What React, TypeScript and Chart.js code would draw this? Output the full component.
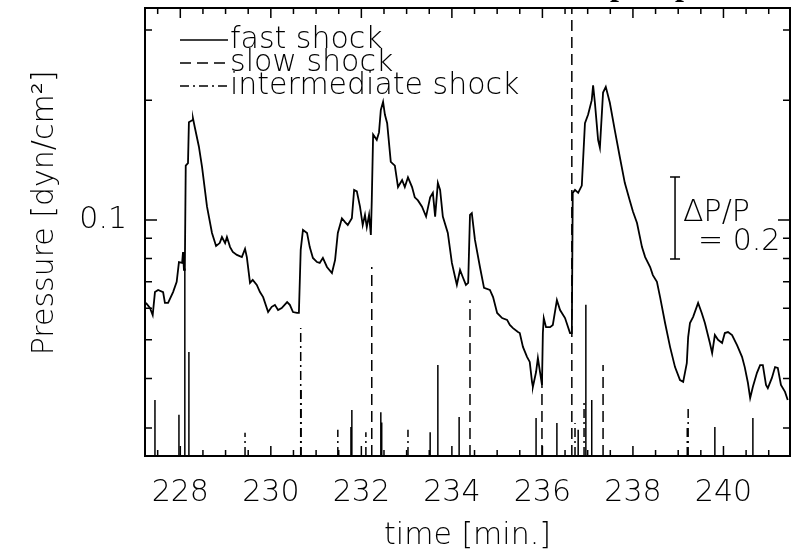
import React, { useEffect, useRef } from "react";
import { Chart, registerables } from "chart.js";

Chart.register(...registerables);

const FONT = '"DejaVu Sans", sans-serif';
const FONT_WEIGHT = "200";

// axis ranges (minutes, dyn/cm^2)
const X_MIN = 227.22;
const X_MAX = 241.47;
const Y_MIN = 0.02553;
const Y_MAX = 0.3409;

// pressure time series
const timeMin = [
  227.24, 227.33, 227.39, 227.44, 227.51, 227.62, 227.66, 227.73, 227.84, 227.92,
  227.97, 228.04, 228.06, 228.08, 228.1, 228.12, 228.17, 228.19, 228.26, 228.28,
  228.32, 228.41, 228.48, 228.59, 228.7, 228.79, 228.87, 228.92, 228.99, 229.03,
  229.1, 229.16, 229.25, 229.36, 229.43, 229.47, 229.54, 229.6, 229.69, 229.76,
  229.83, 229.94, 230.02, 230.09, 230.16, 230.24, 230.36, 230.42, 230.49, 230.58,
  230.62, 230.66, 230.71, 230.8, 230.86, 230.93, 231.02, 231.08, 231.15, 231.24,
  231.35, 231.42, 231.48, 231.57, 231.64, 231.7, 231.79, 231.84, 231.9, 231.97,
  232.03, 232.08, 232.12, 232.17, 232.21, 232.23, 232.26, 232.34, 232.39, 232.43,
  232.48, 232.52, 232.57, 232.65, 232.74, 232.81, 232.9, 232.96, 233.03, 233.12,
  233.18, 233.25, 233.34, 233.43, 233.52, 233.58, 233.63, 233.69, 233.74, 233.8,
  233.91, 234.0, 234.07, 234.11, 234.18, 234.24, 234.31, 234.36, 234.4, 234.44,
  234.51, 234.62, 234.71, 234.84, 234.91, 235.0, 235.11, 235.22, 235.28, 235.35,
  235.46, 235.5, 235.57, 235.66, 235.72, 235.77, 235.79, 235.86, 235.9, 235.95,
  235.99, 236.01, 236.03, 236.08, 236.17, 236.23, 236.32, 236.39, 236.5, 236.61,
  236.65, 236.67, 236.72, 236.79, 236.87, 236.94, 237.01, 237.09, 237.12, 237.16,
  237.23, 237.27, 237.34, 237.4, 237.49, 237.6, 237.71, 237.82, 237.93, 238.0,
  238.09, 238.2, 238.27, 238.38, 238.44, 238.53, 238.6, 238.71, 238.82, 238.93,
  239.04, 239.11, 239.19, 239.22, 239.26, 239.33, 239.44, 239.52, 239.59, 239.7,
  239.75, 239.81, 239.88, 239.97, 240.03, 240.1, 240.19, 240.3, 240.41, 240.47,
  240.54, 240.59, 240.65, 240.74, 240.81, 240.87, 240.94, 240.98, 241.07, 241.14,
  241.2, 241.27, 241.36, 241.42,
];
const pressure = [
  0.0619, 0.0601, 0.0577, 0.0659, 0.0667, 0.0659, 0.0619, 0.0619, 0.0659, 0.0699,
  0.0784, 0.078, 0.0831, 0.0749, 0.0749, 0.137, 0.139, 0.176, 0.178, 0.18,
  0.171, 0.153, 0.136, 0.108, 0.0928, 0.086, 0.0875, 0.0906, 0.0875, 0.0906,
  0.0855, 0.0831, 0.0817, 0.0807, 0.0846, 0.0807, 0.0695, 0.0707, 0.0687, 0.0659,
  0.064, 0.0587, 0.0605, 0.0612, 0.0594, 0.0601, 0.0622, 0.0612, 0.0587, 0.0584,
  0.0584, 0.0841, 0.0944, 0.0928, 0.0855, 0.0803, 0.0784, 0.078, 0.0803, 0.0762,
  0.0736, 0.0794, 0.0928, 0.101, 0.0988, 0.0971, 0.101, 0.119, 0.118, 0.108,
  0.0971, 0.103, 0.096, 0.103, 0.0917, 0.112, 0.164, 0.159, 0.166, 0.189,
  0.198, 0.184, 0.175, 0.14, 0.137, 0.121, 0.126, 0.121, 0.128, 0.121,
  0.114, 0.112, 0.108, 0.102, 0.114, 0.117, 0.102, 0.124, 0.119, 0.102,
  0.0928, 0.078, 0.0719, 0.0687, 0.0749, 0.0719, 0.0687, 0.0695, 0.103, 0.104,
  0.0891, 0.0762, 0.0675, 0.0667, 0.064, 0.0584, 0.0567, 0.0561, 0.0545, 0.0535,
  0.0523, 0.052, 0.048, 0.0453, 0.044, 0.0392, 0.0381, 0.0415, 0.045, 0.0413,
  0.0385, 0.052, 0.0567, 0.0538, 0.0538, 0.0545, 0.0629, 0.0594, 0.0567, 0.052,
  0.052, 0.117, 0.119, 0.117, 0.122, 0.175, 0.184, 0.2, 0.218, 0.197,
  0.159, 0.152, 0.209, 0.216, 0.197, 0.168, 0.144, 0.124, 0.112, 0.105,
  0.0983, 0.0855, 0.0807, 0.0762, 0.0727, 0.0699, 0.064, 0.0551, 0.048, 0.0427,
  0.0396, 0.0392, 0.0437, 0.0508, 0.0551, 0.0571, 0.0619, 0.0584, 0.0551, 0.0491,
  0.0463, 0.0514, 0.05, 0.0491, 0.052, 0.0523, 0.0514, 0.0485, 0.0453, 0.0427,
  0.039, 0.0357, 0.0381, 0.0413, 0.0432, 0.0432, 0.0385, 0.0378, 0.0401, 0.0427,
  0.0425, 0.0385, 0.037, 0.0353,
];

// shock markers: time and height of the vertical bar
const fastShockTimes = [
  227.44, 227.97, 228.1, 228.19, 231.77, 231.79, 232.43, 232.45, 233.52, 233.69,
  234.16, 235.86, 236.32, 236.79, 236.96, 237.09, 239.81, 240.65,
];
const fastShockTops = [
  0.0353, 0.0324, 0.0755, 0.0466, 0.0302, 0.0333, 0.0329, 0.031, 0.0293, 0.0432,
  0.032, 0.0318, 0.0309, 0.0297, 0.0612, 0.0353, 0.0302, 0.0318,
];
const slowShockTimes = [232.23, 234.4, 235.99, 236.65, 237.34];
const slowShockTops = [0.0762, 0.0629, 0.0408, 1.0, 0.0432];
const intShockTimes = [
  229.43, 230.66, 230.67, 231.48, 232.1, 233.03, 236.72, 236.92, 239.2, 239.22,
];
const intShockTops = [
  0.0292, 0.0535, 0.0379, 0.0297, 0.0293, 0.0297, 0.0309, 0.0353, 0.0305, 0.0343,
];

// tick values
const xLabelTicks = [228, 230, 232, 234, 236, 238, 240];
const xMinorTicks = [
  227.5, 228.5, 229, 229.5, 230.5, 231, 231.5, 232.5, 233, 233.5, 234.5, 235,
  235.5, 236.5, 237, 237.5, 238.5, 239, 239.5, 240.5, 241,
];
const yLabelTicks = [0.1];
const yMinorTicks = [0.03, 0.04, 0.05, 0.06, 0.07, 0.08, 0.09, 0.2, 0.3];

// ΔP/P = 0.2 scale bar
const scaleBarTime = 238.93;
const scaleBarLow = 0.0798;
const scaleBarHigh = 0.1282;
const scaleBarLabels = ["\u0394P/P", "= 0.2"];

// descenders of the clipped title line above the frame
const clippedTitleGlyphs = ["p", "p"];
const clippedTitleX = [610, 675];

function shockPoints(times: number[], tops: number[]) {
  const pts: { x: number; y: number | null }[] = [];
  times.forEach((t, i) => {
    pts.push({ x: t, y: Y_MIN }, { x: t, y: tops[i] }, { x: t, y: null });
  });
  return pts;
}

const framePlugin = {
  id: "frameTicks",
  afterDraw(chart: any) {
    const { ctx, chartArea, scales } = chart;
    const { left, right, top, bottom } = chartArea;
    const x = scales.x;
    const y = scales.y;
    ctx.save();
    ctx.strokeStyle = "#000";
    ctx.lineWidth = 2;
    ctx.strokeRect(left, top, right - left, bottom - top);
    ctx.lineWidth = 1.5;
    ctx.beginPath();
    const xt = (v: number, len: number) => {
      const px = x.getPixelForValue(v);
      ctx.moveTo(px, bottom);
      ctx.lineTo(px, bottom - len);
      ctx.moveTo(px, top);
      ctx.lineTo(px, top + len);
    };
    xLabelTicks.forEach((v) => xt(v, 10));
    xMinorTicks.forEach((v) => xt(v, 6));
    const yt = (v: number, len: number) => {
      const py = y.getPixelForValue(v);
      ctx.moveTo(left, py);
      ctx.lineTo(left + len, py);
      ctx.moveTo(right, py);
      ctx.lineTo(right - len, py);
    };
    yLabelTicks.forEach((v) => yt(v, 12));
    yMinorTicks.forEach((v) => yt(v, 7));
    ctx.stroke();

    // clipped title remnants at the very top edge
    ctx.fillStyle = "#000";
    ctx.font = 'bold 32px "Liberation Serif", serif';
    ctx.textAlign = "left";
    ctx.textBaseline = "alphabetic";
    clippedTitleGlyphs.forEach((g, i) => ctx.fillText(g, clippedTitleX[i], -5));
    ctx.restore();
  },
};

const legendPlugin = {
  id: "shockLegend",
  afterDraw(chart: any) {
    const { ctx, chartArea } = chart;
    const items = chart.data.datasets.filter((d: any) => d.inLegend);
    ctx.save();
    items.forEach((d: any, i: number) => {
      const yy = chartArea.top + 32 + i * 23;
      ctx.strokeStyle = "#000";
      ctx.lineWidth = 1.5;
      ctx.setLineDash(d.borderDash || []);
      ctx.beginPath();
      ctx.moveTo(chartArea.left + 35, yy);
      ctx.lineTo(chartArea.left + 83, yy);
      ctx.stroke();
      ctx.setLineDash([]);
      ctx.fillStyle = "#000";
      ctx.font = `${FONT_WEIGHT} 30px ${FONT}`;
      ctx.textAlign = "left";
      ctx.textBaseline = "middle";
      ctx.fillText(d.label, chartArea.left + 85, yy);
    });
    ctx.restore();
  },
};

const scaleBarPlugin = {
  id: "scaleBar",
  afterDraw(chart: any) {
    const { ctx, scales } = chart;
    const px = scales.x.getPixelForValue(scaleBarTime);
    const y1 = scales.y.getPixelForValue(scaleBarHigh);
    const y2 = scales.y.getPixelForValue(scaleBarLow);
    const mid = (y1 + y2) / 2;
    ctx.save();
    ctx.strokeStyle = "#000";
    ctx.lineWidth = 1.5;
    ctx.beginPath();
    ctx.moveTo(px, y1);
    ctx.lineTo(px, y2);
    ctx.moveTo(px - 5, y1);
    ctx.lineTo(px + 5, y1);
    ctx.moveTo(px - 5, y2);
    ctx.lineTo(px + 5, y2);
    ctx.stroke();
    ctx.fillStyle = "#000";
    ctx.font = `${FONT_WEIGHT} 30px ${FONT}`;
    ctx.textAlign = "left";
    ctx.textBaseline = "middle";
    ctx.fillText(scaleBarLabels[0], px + 8, mid - 5);
    ctx.fillText(scaleBarLabels[1], px + 23, mid + 24);
    ctx.restore();
  },
};

const noPad = (s: any) => {
  s.paddingTop = 0;
  s.paddingBottom = 0;
  s.paddingLeft = 0;
  s.paddingRight = 0;
};

export default function App() {
  const ref = useRef<HTMLCanvasElement>(null);
  useEffect(() => {
    const canvas = ref.current;
    if (!canvas) return;
    const chart = new Chart(canvas, {
      type: "line",
      data: {
        datasets: [
          {
            label: "pressure",
            data: timeMin.map((t, i) => ({ x: t, y: pressure[i] })),
            borderColor: "#000",
            borderWidth: 1.8,
            pointRadius: 0,
            tension: 0,
            fill: false,
          },
          {
            label: "fast shock",
            data: shockPoints(fastShockTimes, fastShockTops),
            borderColor: "#000",
            borderWidth: 1.5,
            borderDash: [],
            pointRadius: 0,
            spanGaps: false,
            inLegend: true,
          } as any,
          {
            label: "slow shock",
            data: shockPoints(slowShockTimes, slowShockTops),
            borderColor: "#000",
            borderWidth: 1.5,
            borderDash: [11, 6],
            pointRadius: 0,
            spanGaps: false,
            inLegend: true,
          } as any,
          {
            label: "intermediate shock",
            data: shockPoints(intShockTimes, intShockTops),
            borderColor: "#000",
            borderWidth: 1.5,
            borderDash: [9, 4, 2, 4],
            pointRadius: 0,
            spanGaps: false,
            inLegend: true,
          } as any,
        ],
      },
      options: {
        responsive: false,
        animation: false,
        events: [],
        layout: { padding: { left: 0, right: 5, top: 8, bottom: 0 } },
        plugins: { legend: { display: false }, tooltip: { enabled: false } },
        scales: {
          x: {
            type: "linear",
            min: X_MIN,
            max: X_MAX,
            afterBuildTicks: (s: any) => {
              s.ticks = xLabelTicks.map((v) => ({ value: v }));
            },
            afterFit: (s: any) => {
              s.height = 98;
              noPad(s);
            },
            ticks: {
              autoSkip: false,
              maxRotation: 0,
              padding: 19,
              color: "#000",
              font: { family: FONT, size: 30, weight: FONT_WEIGHT },
              callback: (v: any) => String(v),
            },
            grid: { display: false, drawTicks: false },
            border: { display: false },
            title: {
              display: true,
              text: "time [min.]",
              color: "#000",
              font: { family: FONT, size: 30, weight: FONT_WEIGHT },
              padding: { top: 0, bottom: 0 },
            },
          },
          y: {
            type: "logarithmic",
            min: Y_MIN,
            max: Y_MAX,
            afterBuildTicks: (s: any) => {
              s.ticks = [...yMinorTicks, ...yLabelTicks]
                .sort((a, b) => a - b)
                .map((v) => ({ value: v }));
            },
            afterFit: (s: any) => {
              s.width = 145;
              noPad(s);
            },
            ticks: {
              autoSkip: false,
              padding: 18,
              color: "#000",
              font: { family: FONT, size: 30, weight: FONT_WEIGHT },
              callback: (v: any) => (yLabelTicks.includes(v) ? String(v) : ""),
            },
            grid: { display: false, drawTicks: false },
            border: { display: false },
            title: {
              display: true,
              text: "    Pressure [dyn/cm\u00b2]",
              color: "#000",
              font: { family: FONT, size: 30, weight: FONT_WEIGHT },
              padding: { top: 27, bottom: 0 },
            },
          },
        },
      },
      plugins: [framePlugin, legendPlugin, scaleBarPlugin],
    } as any);
    return () => chart.destroy();
  }, []);
  return (
    <div
      style={{
        position: "absolute",
        left: 0,
        top: 0,
        width: 795,
        height: 554,
        background: "#fff",
      }}
    >
      <canvas ref={ref} width={795} height={554} style={{ display: "block" }} />
    </div>
  );
}
